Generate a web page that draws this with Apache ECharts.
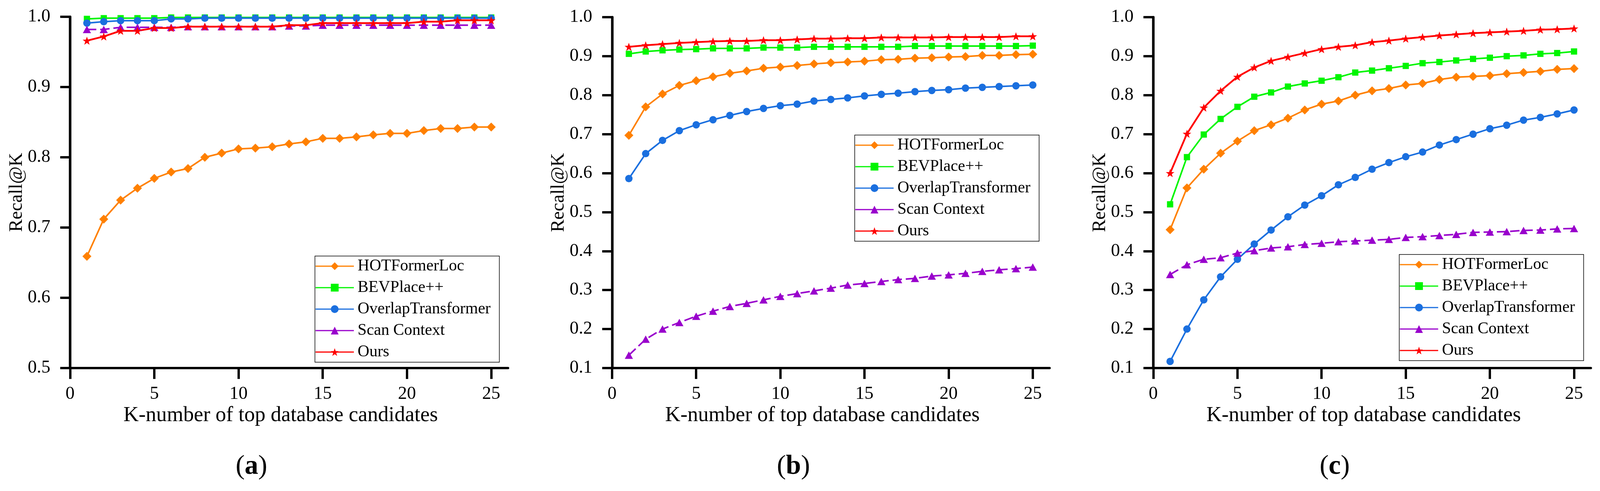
<!DOCTYPE html>
<html>
<head>
<meta charset="utf-8">
<title>Recall@K</title>
<script src="https://cdn.jsdelivr.net/npm/echarts@6/dist/echarts.min.js"></script>
<style>
    html, body { margin: 0; padding: 0; background: #fff; overflow: hidden; }
    #main { width: 100vw; height: 100vh; }
</style>
</head>
<body>
<div id="main"></div>
<script type="text/javascript">
    var kValues = [1, 2, 3, 4, 5, 6, 7, 8, 9, 10, 11, 12, 13, 14, 15, 16, 17, 18, 19, 20, 21, 22, 23, 24, 25];
    var xTicks = [0, 5, 10, 15, 20, 25];
    var methods = ['HOTFormerLoc', 'BEVPlace++', 'OverlapTransformer', 'Scan Context', 'Ours'];
    var panelNames = ['a', 'b', 'c'];
    var yMins = [0.5, 0.1, 0.1];

    // panel (a)
    var hotA = [0.659, 0.712, 0.739, 0.756, 0.770, 0.779, 0.784, 0.800, 0.806, 0.812, 0.813, 0.815, 0.819, 0.822, 0.827, 0.827, 0.829, 0.832, 0.834, 0.834, 0.838, 0.841, 0.841, 0.843, 0.843];
    var bevA = [0.997, 0.998, 0.998, 0.998, 0.998, 0.999, 0.999, 0.999, 0.999, 0.999, 0.999, 0.999, 0.999, 0.999, 0.999, 0.999, 0.999, 0.999, 0.999, 0.999, 0.999, 0.999, 0.999, 0.999, 0.999];
    var overlapA = [0.991, 0.993, 0.9945, 0.9945, 0.9945, 0.997, 0.997, 0.998, 0.998, 0.998, 0.998, 0.998, 0.998, 0.998, 0.998, 0.998, 0.998, 0.998, 0.998, 0.998, 0.998, 0.998, 0.998, 0.998, 0.998];
    var scanA = [0.982, 0.982, 0.985, 0.985, 0.985, 0.985, 0.986, 0.986, 0.986, 0.986, 0.986, 0.986, 0.987, 0.987, 0.988, 0.988, 0.988, 0.988, 0.988, 0.988, 0.988, 0.988, 0.988, 0.988, 0.988];
    var oursA = [0.966, 0.972, 0.980, 0.980, 0.984, 0.984, 0.986, 0.986, 0.986, 0.986, 0.986, 0.986, 0.988, 0.988, 0.991, 0.991, 0.991, 0.991, 0.991, 0.991, 0.993, 0.993, 0.995, 0.995, 0.995];

    // panel (b)
    var hotB = [0.697, 0.770, 0.803, 0.825, 0.837, 0.847, 0.856, 0.862, 0.869, 0.872, 0.876, 0.880, 0.883, 0.885, 0.887, 0.891, 0.892, 0.895, 0.896, 0.898, 0.899, 0.902, 0.902, 0.904, 0.905];
    var bevB = [0.906, 0.912, 0.915, 0.917, 0.918, 0.920, 0.920, 0.920, 0.922, 0.922, 0.922, 0.924, 0.924, 0.924, 0.924, 0.924, 0.924, 0.926, 0.926, 0.926, 0.926, 0.926, 0.926, 0.926, 0.927];
    var overlapB = [0.586, 0.650, 0.684, 0.709, 0.724, 0.737, 0.748, 0.758, 0.766, 0.773, 0.777, 0.785, 0.789, 0.793, 0.798, 0.802, 0.805, 0.809, 0.812, 0.814, 0.818, 0.820, 0.822, 0.824, 0.826];
    var scanB = [0.133, 0.174, 0.200, 0.217, 0.233, 0.246, 0.258, 0.266, 0.275, 0.284, 0.291, 0.298, 0.305, 0.313, 0.317, 0.322, 0.327, 0.330, 0.336, 0.339, 0.343, 0.348, 0.352, 0.355, 0.359];
    var oursB = [0.924, 0.928, 0.931, 0.934, 0.936, 0.938, 0.939, 0.939, 0.941, 0.941, 0.943, 0.945, 0.945, 0.946, 0.946, 0.948, 0.948, 0.948, 0.948, 0.949, 0.949, 0.949, 0.949, 0.951, 0.951];

    // panel (c)
    var hotC = [0.455, 0.562, 0.610, 0.651, 0.682, 0.709, 0.724, 0.741, 0.762, 0.777, 0.785, 0.800, 0.811, 0.817, 0.826, 0.830, 0.840, 0.846, 0.848, 0.850, 0.855, 0.858, 0.861, 0.866, 0.868];
    var bevC = [0.520, 0.641, 0.699, 0.739, 0.770, 0.796, 0.807, 0.822, 0.830, 0.837, 0.846, 0.858, 0.863, 0.869, 0.875, 0.882, 0.885, 0.889, 0.893, 0.896, 0.900, 0.902, 0.906, 0.908, 0.912];
    var overlapC = [0.117, 0.200, 0.275, 0.334, 0.379, 0.418, 0.454, 0.488, 0.518, 0.542, 0.570, 0.589, 0.610, 0.627, 0.642, 0.654, 0.672, 0.686, 0.700, 0.714, 0.723, 0.736, 0.743, 0.752, 0.762];
    var scanC = [0.340, 0.365, 0.379, 0.383, 0.395, 0.401, 0.408, 0.411, 0.417, 0.420, 0.424, 0.426, 0.428, 0.430, 0.435, 0.437, 0.440, 0.443, 0.448, 0.449, 0.450, 0.453, 0.454, 0.457, 0.458];
    var oursC = [0.600, 0.701, 0.768, 0.811, 0.847, 0.871, 0.888, 0.898, 0.908, 0.918, 0.924, 0.928, 0.936, 0.940, 0.945, 0.949, 0.953, 0.956, 0.959, 0.961, 0.963, 0.965, 0.968, 0.969, 0.971];

    var panelData = [
        [hotA, bevA, overlapA, scanA, oursA],
        [hotB, bevB, overlapB, scanB, oursB],
        [hotC, bevC, overlapC, scanC, oursC]
    ];

    // the figure was laid out on a 4384x1258 page; scale to whatever the window really is
    var sx = window.innerWidth / 4384;
    var sy = window.innerHeight / 1258;
    var sf = Math.sqrt(sx * sy);
    function X(v) { return Math.round(v * sx * 10) / 10; }
    function Y(v) { return Math.round(v * sy * 10) / 10; }
    function F(v) { return Math.round(v * sf * 10) / 10; }

    var FONT = '"Liberation Serif", "Times New Roman", serif';
    var STAR = 'path://M0,-10L2.35,-3.24L9.51,-3.09L3.8,1.24L5.88,8.09L0,4L-5.88,8.09L-3.8,1.24L-9.51,-3.09L-2.35,-3.24Z';

    var looks = [
        { color: '#FF8000', symbol: 'diamond', size: [23, 23], width: 4, type: 'solid' },
        { color: '#00F500', symbol: 'rect', size: 16, width: 4, type: 'solid' },
        { color: '#1A6FDF', symbol: 'circle', size: 19, width: 4, type: 'solid' },
        { color: '#9900CC', symbol: 'triangle', size: [21, 19], width: 4, type: [24, 10] },
        { color: '#FF0000', symbol: STAR, size: [22, 21], width: 4.5, type: 'solid' }
    ];

    var boxes = [
        { left: 192, top: 43, width: 1200, height: 900 },
        { left: 1677, top: 44, width: 1199, height: 899 },
        { left: 3160, top: 44, width: 1199, height: 899 }
    ];
    var legendPos = [
        { left: 863, top: 656 },
        { left: 2342, top: 346 },
        { left: 3834, top: 652 }
    ];
    var labelX = [689, 2174, 3657];

    var grid = [], xAxis = [], yAxis = [], legend = [], series = [], graphic = [];

    for (var p = 0; p < 3; p++) {
        grid.push({
            left: X(boxes[p].left), top: Y(boxes[p].top),
            width: X(boxes[p].width), height: Y(boxes[p].height)
        });

        xAxis.push({
            gridIndex: p,
            type: 'value',
            min: 0,
            max: 26,
            interval: 5,
            name: 'K-number of top database candidates',
            nameLocation: 'middle',
            nameGap: Y(94),
            nameTextStyle: { fontSize: F(56), fontFamily: FONT, color: '#000', padding: [0, X(46), 0, 0] },
            axisLine: { onZero: false, lineStyle: { color: '#000', width: 6 } },
            axisTick: { customValues: xTicks, length: Y(28), lineStyle: { color: '#000', width: 6 } },
            axisLabel: { customValues: xTicks, margin: Y(44), fontSize: F(48), fontFamily: FONT, color: '#000' },
            splitLine: { show: false }
        });

        yAxis.push({
            gridIndex: p,
            type: 'value',
            min: yMins[p],
            max: 1.0,
            interval: 0.1,
            name: 'Recall@K',
            nameLocation: 'middle',
            nameGap: X(112),
            nameTextStyle: { fontSize: F(50), fontFamily: FONT, color: '#000' },
            axisLine: { onZero: false, lineStyle: { color: '#000', width: 6.5 } },
            axisTick: { length: X(27), lineStyle: { color: '#000', width: 6 } },
            axisLabel: {
                margin: X(54), fontSize: F(48), fontFamily: FONT, color: '#000',
                formatter: function (v) { return v.toFixed(1); }
            },
            splitLine: { show: false }
        });

        legend.push({
            orient: 'vertical',
            left: X(legendPos[p].left),
            top: Y(legendPos[p].top),
            data: methods,
            itemWidth: X(105),
            itemHeight: 25,
            itemGap: Y(13),
            padding: [Y(5), X(24), Y(5), 0],
            backgroundColor: '#fff',
            borderColor: '#000',
            borderWidth: 1.5,
            borderRadius: 0,
            lineStyle: { type: 'solid', width: 3 },
            textStyle: { fontSize: F(43), fontFamily: FONT, color: '#000', padding: [0, 0, 0, X(5)] }
        });

        for (var m = 0; m < methods.length; m++) {
            var vals = panelData[p][m];
            series.push({
                name: methods[m],
                type: 'line',
                xAxisIndex: p,
                yAxisIndex: p,
                data: kValues.map(function (k, j) { return [k, vals[j]]; }),
                symbol: looks[m].symbol,
                symbolSize: looks[m].size,
                showAllSymbol: true,
                itemStyle: { color: looks[m].color },
                lineStyle: { color: looks[m].color, width: looks[m].width, type: looks[m].type },
                emphasis: { disabled: true }
            });
        }

        graphic.push({
            type: 'text',
            x: X(labelX[p]),
            y: Y(1196),
            style: {
                text: '{n|(}{b|' + panelNames[p] + '}{n|)}',
                rich: {
                    n: { fontSize: F(72), fontFamily: FONT, fill: '#000' },
                    b: { fontSize: F(72), fontFamily: FONT, fontWeight: 'bold', fill: '#000' }
                },
                align: 'center',
                verticalAlign: 'middle',
                textAlign: 'center',
                textVerticalAlign: 'middle'
            }
        });
    }

    var myChart = echarts.init(document.getElementById('main'));
    var option = {
        animation: false,
        backgroundColor: '#fff',
        grid: grid,
        xAxis: xAxis,
        yAxis: yAxis,
        legend: legend,
        series: series,
        graphic: graphic
    };
    myChart.setOption(option, true);
</script>
</body>
</html>
